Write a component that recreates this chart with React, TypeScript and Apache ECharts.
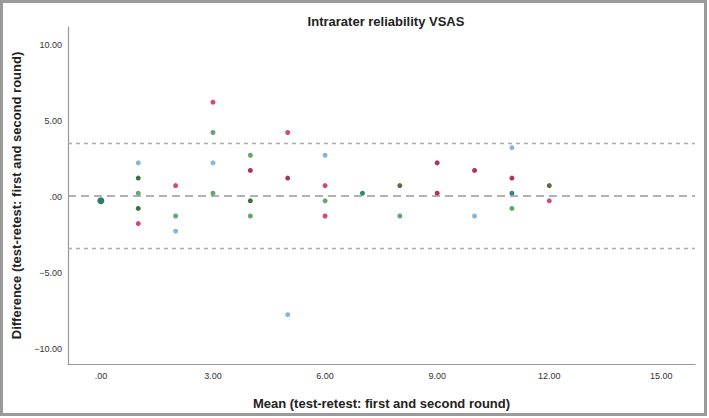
import React, { useEffect, useRef } from "react";
import * as echarts from "echarts";

const chartTitle = "Intrarater reliability VSAS";
const xAxisTitle = "Mean (test-retest: first and second round)";
const yAxisTitle = "Difference (test-retest: first and second round)";

const xTicks = [0, 3, 6, 9, 12, 15];
const yTicks = [-10, -5, 0, 5, 10];

const meanDiff = 0.09;
const upperLoA = 3.56;
const lowerLoA = -3.38;

// points grouped by marker colour: [mean, difference]
const pinkPoints = [[3, 6.25], [5, 4.25], [2, 0.75], [1, -1.75], [6, 0.75], [6, -1.25], [12, -0.25]];
const darkPinkPoints = [[4, 1.75], [5, 1.25], [9, 2.25], [9, 0.25], [10, 1.75], [11, 1.25]];
const bluePoints = [[1, 2.25], [3, 2.25], [2, -2.25], [5, -7.75], [6, 2.75], [10, -1.25], [11, 3.25]];
const greenPoints = [[3, 4.25], [1, 0.25], [3, 0.25], [2, -1.25], [4, -1.25], [6, -0.25], [8, -1.25], [11, -0.75], [4, 2.75]];
const darkGreenPoints = [[1, 1.25], [1, -0.75], [4, -0.25]];
const tealPoints = [[11, 0.25], [7, 0.25]];
const tealLargePoints = [[0, -0.25]];
const olivePoints = [[8, 0.75], [12, 0.75]];

const fmt = (v: number) => {
  if (v === 0) return ".00";
  const s = Math.abs(v).toFixed(2);
  return v < 0 ? "\u2212" + s : s;
};

export default function App() {
  const ref = useRef<HTMLDivElement>(null);
  useEffect(() => {
    if (!ref.current) return;
    const chart = echarts.init(ref.current, null, { renderer: "svg" });
    const sc = (name: string, data: number[][], color: string, size = 5) => ({
      name,
      type: "scatter",
      data,
      symbolSize: size,
      itemStyle: { color, opacity: 1 },
      z: 3,
    });
    chart.setOption({
      animation: false,
      backgroundColor: "#ffffff",
      title: {
        text: chartTitle,
        left: 381,
        textAlign: "center",
        top: 10,
        textStyle: { fontFamily: "Liberation Sans, Arial", fontSize: 13, fontWeight: "bold", color: "#222" },
      },
      grid: { left: 68, right: 14, top: 27, bottom: 54 },
      xAxis: {
        type: "value",
        min: -0.88,
        max: 15.9,
        name: xAxisTitle,
        nameLocation: "middle",
        nameGap: 33,
        nameTextStyle: { fontFamily: "Liberation Sans, Arial", fontSize: 13, fontWeight: "bold", color: "#222" },
        axisLine: { show: true, onZero: false, lineStyle: { color: "#999", width: 1.2 } },
        axisTick: { show: false },
        splitLine: { show: false },
        axisLabel: {
          customValues: xTicks,
          formatter: (v: number) => fmt(v),
          margin: 7,
          fontFamily: "Liberation Sans Narrow, Liberation Sans, Arial",
          fontSize: 9,
          color: "#333",
        },
      },
      yAxis: {
        type: "value",
        min: -11,
        max: 11.2,
        name: yAxisTitle,
        nameLocation: "middle",
        nameGap: 42,
        nameRotate: 90,
        nameTextStyle: { fontFamily: "Liberation Sans, Arial", fontSize: 13, fontWeight: "bold", color: "#222" },
        axisLine: { show: true, onZero: false, lineStyle: { color: "#999", width: 1.2 } },
        axisTick: { show: false },
        splitLine: { show: false },
        axisLabel: {
          customValues: yTicks,
          formatter: (v: number) => fmt(v),
          margin: 6,
          fontFamily: "Liberation Sans Narrow, Liberation Sans, Arial",
          fontSize: 9,
          color: "#333",
        },
      },
      series: [
        {
          ...sc("green", greenPoints, "#67a56f"),
          markLine: {
            silent: true,
            symbol: "none",
            label: { show: false },
            data: [
              { yAxis: meanDiff, lineStyle: { type: [8, 5], color: "#999", width: 1.5 } },
              { yAxis: upperLoA, lineStyle: { type: [4, 4], color: "#aaa", width: 1.3 } },
              { yAxis: lowerLoA, lineStyle: { type: [4, 4], color: "#aaa", width: 1.3 } },
            ],
          },
        },
        sc("pink", pinkPoints, "#d9457b"),
        sc("darkPink", darkPinkPoints, "#b0315f"),
        sc("blue", bluePoints, "#85b4e0"),
        sc("darkGreen", darkGreenPoints, "#3e6f40"),
        sc("teal", tealPoints, "#2f8a72"),
        sc("tealLarge", tealLargePoints, "#2f7a6c", 7),
        sc("olive", olivePoints, "#5c6b44"),
      ],
      graphic: [
        {
          type: "rect",
          shape: { x: 1.5, y: 1.5, width: 704, height: 413 },
          style: { fill: "none", stroke: "#9a9a9a", lineWidth: 3 },
          silent: true,
        },
      ],
    });
    return () => chart.dispose();
  }, []);
  return (
    <div
      ref={ref}
      style={{ position: "absolute", left: 0, top: 0, width: 709, height: 418 }}
    />
  );
}
